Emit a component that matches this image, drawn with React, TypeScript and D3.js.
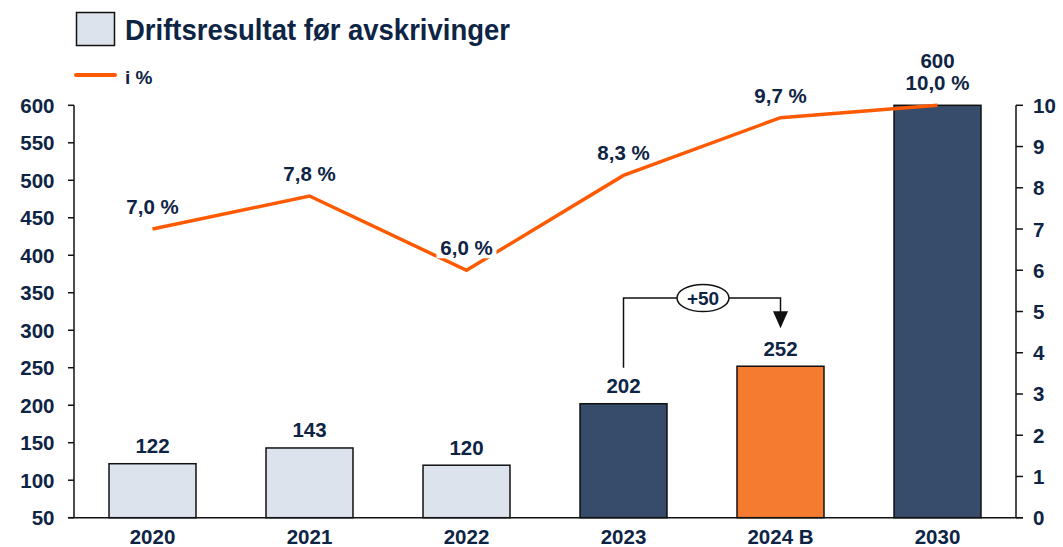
import React from "react";
import * as d3 from "d3";

const categories = ["2020", "2021", "2022", "2023", "2024 B", "2030"];
const barValues = [122, 143, 120, 202, 252, 600];
const pctValues = [7.0, 7.8, 6.0, 8.3, 9.7, 10.0];
const barColors = ["#dde3ec", "#dde3ec", "#dde3ec", "#374b6b", "#f47b30", "#374b6b"];
const leftTicks = [50, 100, 150, 200, 250, 300, 350, 400, 450, 500, 550, 600];
const rightTicks = [0, 1, 2, 3, 4, 5, 6, 7, 8, 9, 10];
const titleText = "Driftsresultat før avskrivinger";
const lineLegend = "i %";
const deltaLabel = "+50";

const W = 1063;
const H = 547;
const TXT = "#0e2445";
const LINE = "#ff5a00";
const FONT = "'Liberation Sans', Arial, sans-serif";
const FS = 20.5;

export default function App() {
  const x0 = 74, x1 = 1016, yTop = 105.3, yBot = 517.7;
  const x = d3.scaleBand<string>().domain(categories).range([x0, x1]).paddingInner(0.446).paddingOuter(0.223);
  const yL = d3.scaleLinear().domain([50, 600]).range([yBot, yTop]);
  const yR = d3.scaleLinear().domain([0, 10]).range([yBot, yTop]);
  const cx = (c: string) => (x(c) as number) + x.bandwidth() / 2;
  const fmt = (v: number) => v.toFixed(1).replace(".", ",") + " %";
  const line = d3.line<number>().x((_, i) => cx(categories[i])).y((d) => yR(d));

  const i23 = 3, i24 = 4;
  const ax = cx(categories[i23]);
  const bx = cx(categories[i24]);
  const armY = 298;
  const startY = yL(barValues[i23]) - 36;
  const tipY = yL(barValues[i24]) - 38;
  const midX = (ax + bx) / 2 + 1;

  return (
    <svg width={W} height={H} style={{ position: "absolute", left: 0, top: 0 }} fontFamily={FONT}>
      <rect width={W} height={H} fill="#fff" />
      {/* legend */}
      <rect x={76.5} y={12.5} width={38} height={33} fill="#dde3ec" stroke="#111" strokeWidth={1.5} />
      <text x={125} y={40} fontSize={30} fontWeight="bold" fill={TXT} textLength={385} lengthAdjust="spacingAndGlyphs">{titleText}</text>
      <line x1={76} x2={115} y1={75} y2={75} stroke={LINE} strokeWidth={4} strokeLinecap="round" />
      <text x={125} y={84} fontSize={19} fontWeight="bold" fill={TXT}>{lineLegend}</text>

      {/* bars */}
      {categories.map((c, i) => (
        <rect key={c} x={x(c)} y={yL(barValues[i])} width={x.bandwidth()} height={yBot - yL(barValues[i])}
          fill={barColors[i]} stroke="#111" strokeWidth={1.5} />
      ))}
      {/* bar labels */}
      {categories.map((c, i) => (i === 5 ? null :
        <text key={c} x={cx(c)} y={yL(barValues[i]) - 10.5} textAnchor="middle" fontSize={FS} fontWeight="bold" fill={TXT}>{barValues[i]}</text>
      ))}

      {/* axes */}
      <line x1={x0} x2={x0} y1={yTop} y2={yBot} stroke="#111" strokeWidth={1.5} />
      <line x1={x1} x2={x1} y1={yTop} y2={yBot} stroke="#111" strokeWidth={1.5} />
      <line x1={68} x2={1023} y1={yBot} y2={yBot} stroke="#111" strokeWidth={1.5} />
      {leftTicks.map((t) => (
        <g key={t}>
          <line x1={68} x2={x0} y1={yL(t)} y2={yL(t)} stroke="#111" strokeWidth={1.5} />
          <text x={54.5} y={yL(t) + 7.5} textAnchor="end" fontSize={FS} fontWeight="bold" fill={TXT}>{t}</text>
        </g>
      ))}
      {rightTicks.map((t) => (
        <g key={t}>
          <line x1={x1} x2={1023} y1={yR(t)} y2={yR(t)} stroke="#111" strokeWidth={1.5} />
          <text x={1033} y={yR(t) + 7.5} textAnchor="start" fontSize={FS} fontWeight="bold" fill={TXT}>{t}</text>
        </g>
      ))}
      {categories.map((c) => (
        <text key={c} x={cx(c)} y={544} textAnchor="middle" fontSize={FS} fontWeight="bold" fill={TXT}>{c}</text>
      ))}

      {/* line */}
      <path d={line(pctValues) as string} fill="none" stroke={LINE} strokeWidth={3.5} strokeLinejoin="miter" />
      {categories.map((c, i) => {
        const ty = yR(pctValues[i]) - 15;
        const label = fmt(pctValues[i]);
        return (
          <g key={c}>
            {i === 2 && <rect x={cx(c) - 30} y={ty - 16} width={60} height={19} fill="#fff" />}
            <text x={cx(c)} y={ty} textAnchor="middle" fontSize={FS} fontWeight="bold" fill={TXT}>{label}</text>
            {i === 5 && <text x={cx(c)} y={ty - 22} textAnchor="middle" fontSize={FS} fontWeight="bold" fill={TXT}>{barValues[i]}</text>}
          </g>
        );
      })}

      {/* +50 annotation */}
      <path d={`M${ax},${startY} V${armY} H${bx} V${tipY - 16}`} fill="none" stroke="#111" strokeWidth={1.5} />
      <path d={`M${bx - 7.5},${tipY - 17} L${bx + 7.5},${tipY - 17} L${bx},${tipY} Z`} fill="#111" />
      <ellipse cx={midX} cy={armY} rx={26} ry={13.5} fill="#fff" stroke="#111" strokeWidth={1.5} />
      <text x={midX} y={armY + 7} textAnchor="middle" fontSize={19} fontWeight="bold" fill={TXT}>{deltaLabel}</text>
    </svg>
  );
}
